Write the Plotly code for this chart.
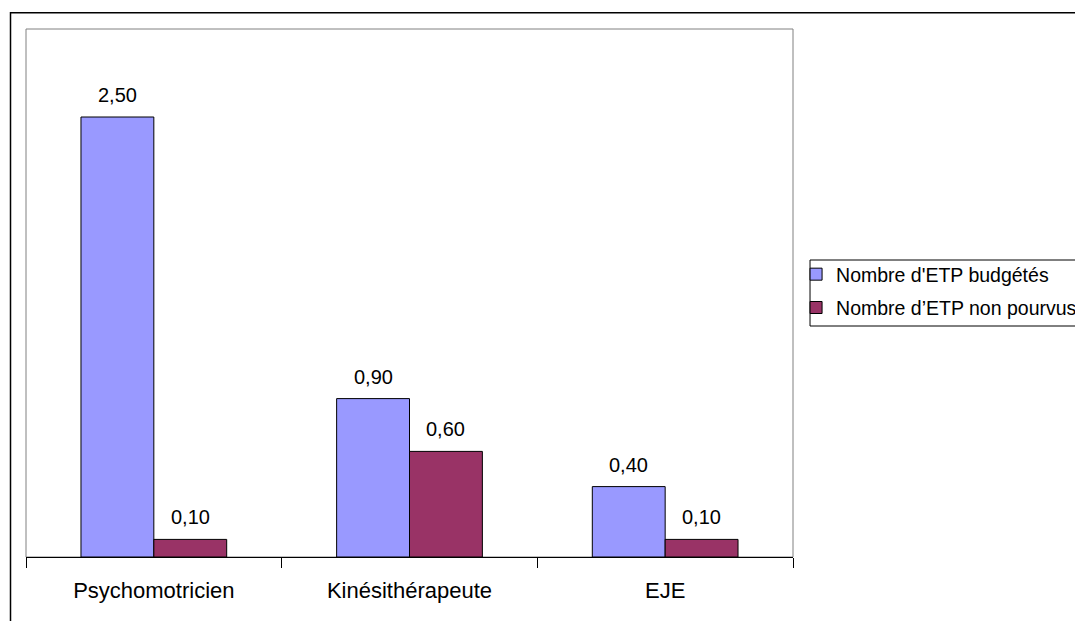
import plotly.graph_objects as go

categories = ["Psychomotricien", "Kinésithérapeute", "EJE"]
budgetes = [2.50, 0.90, 0.40]
non_pourvus = [0.10, 0.60, 0.10]
series_names = ["Nombre d'ETP budgétés", "Nombre d\u2019ETP non pourvus"]
series_colors = ["#9999FF", "#993366"]

FONT = "Arial, Liberation Sans, sans-serif"
BARGAP = 0.43

fig = go.Figure()
for i, (vals, name, color) in enumerate(zip([budgetes, non_pourvus], series_names, series_colors)):
    fig.add_trace(go.Bar(
        x=categories, y=vals, name=name,
        marker=dict(color=color, line=dict(color="black", width=1)),
        legendgroup=f"g{i}",
    ))

# data labels above each bar
bar_w = (1 - BARGAP) / 2
for k, vals in enumerate([budgetes, non_pourvus]):
    offset = (k - 0.5) * bar_w
    for i, v in enumerate(vals):
        fig.add_annotation(
            x=i + offset, y=v, xref="x", yref="y",
            text=f"{v:.2f}".replace(".", ","),
            showarrow=False, yanchor="bottom", yshift=9,
            font=dict(family=FONT, size=20, color="black"),
        )

# outer chart frame
fig.add_shape(type="rect", xref="paper", yref="paper",
              x0=-0.0202, y0=-0.5, x1=2, y1=1.031,
              line=dict(color="black", width=1.5), layer="below")
# plot area frame
fig.add_shape(type="rect", xref="paper", yref="paper",
              x0=0, y0=0, x1=1, y1=1,
              line=dict(color="#808080", width=1), layer="below")
# legend frame (drawn separately so it can run off the right edge)
fig.add_shape(type="rect", xref="paper", yref="paper",
              x0=1.0222, y0=0.4375, x1=1.5, y1=0.5625,
              line=dict(color="black", width=1), fillcolor="white", layer="below")

fig.update_layout(
    width=1083, height=621,
    margin=dict(l=18, r=298, t=21, b=72, autoexpand=False),
    paper_bgcolor="white", plot_bgcolor="white",
    barmode="group", bargap=BARGAP, bargroupgap=0,
    font=dict(family=FONT, color="black"),
    showlegend=True,
    legend=dict(
        x=1.004, y=0.572, xanchor="left", yanchor="top",
        borderwidth=0, bgcolor="rgba(0,0,0,0)",
        font=dict(family=FONT, size=19.5, color="black"),
        traceorder="grouped", tracegroupgap=5,
    ),
)
fig.update_xaxes(
    type="category", range=[-0.5, 2.5],
    showline=True, linecolor="black", linewidth=1,
    ticks="outside", tickson="boundaries", ticklen=10, tickcolor="black",
    tickfont=dict(family=FONT, size=22, color="black"),
    ticklabelstandoff=14,
    showgrid=False, zeroline=False,
)
fig.update_yaxes(
    range=[0, 3], showticklabels=False, showgrid=False,
    zeroline=False, showline=False, ticks="",
)

fig.write_html("out.html")
